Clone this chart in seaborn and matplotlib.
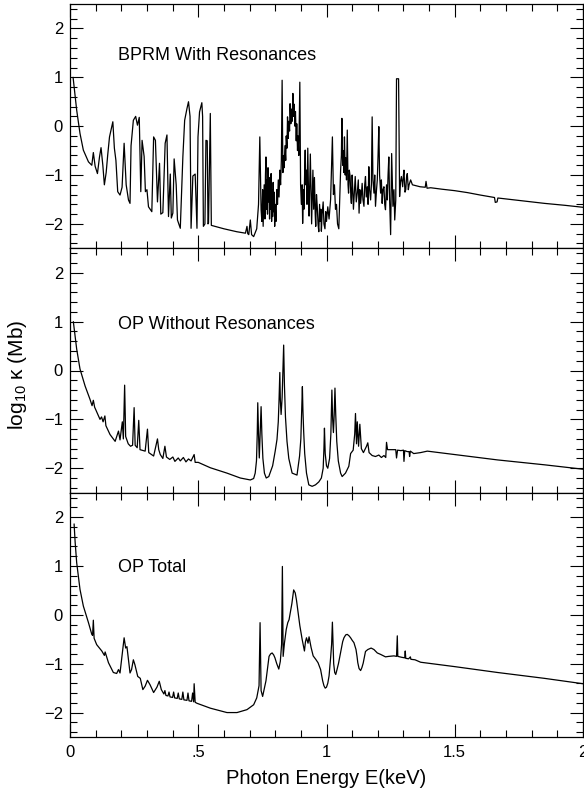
import numpy as np
import pandas as pd
import matplotlib
matplotlib.use("Agg")
import matplotlib.pyplot as plt
from matplotlib.ticker import MultipleLocator, FixedLocator, FixedFormatter
import seaborn as sns

# ---- Data (photon energy in keV, log10 kappa in Mb) ----
bprm_e = [0.012, 0.026, 0.039, 0.052, 0.072, 0.085, 0.091, 0.098, 0.107, 0.115,
          0.121, 0.128, 0.134, 0.141, 0.147, 0.154, 0.160, 0.167, 0.173, 0.179,
          0.186, 0.195, 0.203, 0.211, 0.219, 0.228, 0.234, 0.238, 0.247, 0.256,
          0.263, 0.270, 0.276, 0.281, 0.289, 0.294, 0.300, 0.306, 0.319, 0.326,
          0.333, 0.341, 0.349, 0.354, 0.362, 0.371, 0.378, 0.384, 0.391, 0.395,
          0.401, 0.406, 0.414, 0.419, 0.430, 0.440, 0.447, 0.456, 0.462, 0.468,
          0.472, 0.479, 0.488, 0.495, 0.499, 0.505, 0.510, 0.514, 0.517, 0.520,
          0.526, 0.530, 0.535, 0.538, 0.540, 0.547, 0.551,
          0.600, 0.650, 0.684, 0.690, 0.693, 0.697, 0.703, 0.708, 0.716, 0.728,
          0.735, 0.740, 0.745,
          0.748, 0.751, 0.753, 0.757, 0.760, 0.762, 0.764, 0.766, 0.768, 0.770,
          0.772, 0.774, 0.776, 0.778, 0.780, 0.782, 0.784, 0.786, 0.788, 0.790,
          0.792, 0.794, 0.796, 0.798, 0.800, 0.803, 0.806, 0.809, 0.812, 0.815,
          0.818, 0.821, 0.824, 0.827, 0.830,
          0.832, 0.835, 0.838, 0.841, 0.843, 0.846, 0.848, 0.851, 0.853, 0.856,
          0.858, 0.861, 0.863, 0.866, 0.869, 0.871, 0.874, 0.877, 0.879, 0.882,
          0.884, 0.887, 0.889, 0.892, 0.896, 0.899,
          0.902, 0.905, 0.907, 0.910, 0.912, 0.915, 0.917, 0.919, 0.922, 0.924,
          0.927, 0.930, 0.932, 0.935, 0.937, 0.940, 0.942, 0.945, 0.947, 0.950,
          0.953, 0.956, 0.958, 0.961, 0.964, 0.967, 0.970, 0.973, 0.976, 0.978,
          0.980, 0.983, 0.987, 0.990, 0.994, 0.997, 1.000, 1.005, 1.010, 1.016,
          1.023, 1.027, 1.031, 1.035, 1.039, 1.043, 1.048,
          1.052, 1.055, 1.058, 1.060, 1.063, 1.065, 1.068, 1.070, 1.073, 1.075,
          1.078, 1.081, 1.084, 1.086, 1.089, 1.092, 1.095, 1.097, 1.100, 1.102,
          1.105, 1.107, 1.110, 1.112, 1.116, 1.120, 1.124, 1.127, 1.130, 1.133,
          1.136, 1.139, 1.142, 1.146, 1.149, 1.152, 1.155, 1.159, 1.162, 1.165,
          1.168, 1.172, 1.175, 1.178, 1.181, 1.185, 1.188, 1.191, 1.195, 1.198,
          1.201, 1.204, 1.207, 1.211, 1.214, 1.217, 1.220, 1.224, 1.227, 1.230,
          1.234, 1.237, 1.240, 1.243, 1.246, 1.250,
          1.254, 1.259, 1.263, 1.266, 1.270, 1.273, 1.281, 1.285, 1.288, 1.292,
          1.297, 1.300, 1.302, 1.306, 1.309, 1.312, 1.315, 1.319, 1.322, 1.328,
          1.335, 1.350, 1.365, 1.385, 1.388, 1.392, 1.406, 1.450, 1.500, 1.550,
          1.600, 1.655, 1.658, 1.665, 1.668, 1.750, 1.850, 1.930, 2.000]
bprm_logk = [1.00, 0.33, -0.15, -0.49, -0.73, -0.80, -0.54, -0.82, -0.97, -0.63,
             -0.44, -0.80, -1.20, -0.95, -0.59, -0.22, -0.08, 0.09, -0.45, -0.70,
             -1.34, -1.41, -1.25, -0.35, -1.20, -1.51, -1.58, -0.40, 0.12, 0.20,
             0.02, 0.18, -1.34, -0.29, -0.62, -1.34, -1.30, -1.65, -1.75, -0.22,
             -0.29, -1.55, -0.76, -1.80, -1.77, -0.35, -0.18, -1.85, -0.98, -1.88,
             -1.78, -0.67, -1.20, -1.92, -2.09, -0.63, 0.12, 0.36, 0.50, 0.20,
             -2.09, -1.02, -0.98, -2.09, -0.22, 0.29, 0.40, 0.48, 0.20, -2.05,
             -2.00, -0.29, -0.30, -2.00, -1.98, 0.26, -2.03,
             -2.10, -2.16, -2.19, -2.05, -2.20, -2.22, -1.92, -2.22, -2.26, -2.10,
             -1.60, -0.22, -1.71,
             -1.95, -1.30, -2.05, -1.20, -1.90, -1.00, -0.63, -1.70, -1.10, -1.80,
             -0.85, -1.55, -1.05, -1.90, -1.25, -1.70, -0.97, -1.95, -1.30, -1.85,
             -1.15, -1.75, -1.35, -2.05, -1.60, -1.95, -1.30, -1.60, -1.10, -1.45,
             -0.90, -1.20, -0.70, 0.94, -0.95,
             -0.60, -0.85, -0.40, -0.70, -0.20, -0.45, 0.19, -0.25, 0.10, -0.10,
             0.46, 0.05, 0.35, 0.10, 0.67, 0.20, 0.45, 0.00, 0.30, -0.30,
             0.05, -0.50, -0.20, -0.60, 0.90, -1.20,
             -1.60, -1.20, -1.99, -1.30, -1.70, -0.90, -0.49, -1.20, -0.90, -1.60,
             -0.45, -1.40, -1.84, -1.10, -0.57, -1.50, -2.00, -1.30, -0.90, -1.70,
             -1.05, -1.80, -2.05, -1.40, -1.65, -2.00, -2.16, -1.60, -1.95, -1.70,
             -2.15, -1.80, -1.55, -2.00, -2.10, -1.75, -1.95, -1.65, -1.90, -1.50,
             -0.22, -1.40, -1.20, -1.70, -1.60, -2.00, -2.10,
             -1.40, -0.90, -0.60, 0.16, -0.80, -0.50, -0.95, -0.22, -1.00, -0.65,
             -1.10, -0.08, -1.20, -1.37, -0.90, -1.03, -1.45, -1.58, -1.00, -1.24,
             -1.70, -1.51, -1.20, -1.03, -1.55, -1.37, -1.10, -1.78, -1.30, -1.58,
             -1.40, -1.17, -1.50, -1.64, -1.20, -1.03, -1.45, -1.24, -1.60, -0.83,
             -1.30, -1.51, -1.20, 0.19, -1.10, -1.37, -1.00, -1.64, -1.30, -1.10,
             -0.60, -0.01, -1.00, -1.37, -1.10, -1.58, -1.30, -1.24, -1.60, -1.71,
             -1.20, -1.51, -1.00, -0.63, -1.50, -2.22,
             -0.56, -1.64, -1.30, -1.92, -1.51, 0.97, 0.97, -1.44, -1.15, -1.03,
             -1.24, -1.00, -0.90, -1.35, -1.30, -1.05, -0.97, -1.30, -1.20, -1.10,
             -1.20, -1.22, -1.24, -1.25, -1.13, -1.27, -1.26, -1.29, -1.32, -1.36,
             -1.41, -1.46, -1.56, -1.55, -1.47, -1.52, -1.58, -1.62, -1.66]

op_e = [0.013, 0.026, 0.039, 0.059, 0.078, 0.086, 0.091, 0.096, 0.111, 0.117,
        0.123, 0.129, 0.136, 0.140, 0.156, 0.176, 0.189, 0.195, 0.204, 0.208,
        0.213, 0.217, 0.227, 0.236, 0.244, 0.250, 0.254, 0.262, 0.268, 0.273,
        0.293, 0.302, 0.307, 0.326, 0.341, 0.346, 0.352, 0.362, 0.370, 0.376,
        0.389, 0.401, 0.409, 0.422, 0.430, 0.442, 0.452, 0.462, 0.472, 0.484,
        0.488, 0.500, 0.547, 0.612, 0.664, 0.703, 0.716,
        0.722, 0.727, 0.730, 0.732, 0.735, 0.738, 0.742, 0.745, 0.748, 0.752,
        0.758, 0.765, 0.775, 0.790, 0.800, 0.807, 0.812, 0.815, 0.818, 0.820,
        0.823, 0.827, 0.830, 0.833, 0.836, 0.840, 0.846, 0.853, 0.866, 0.885,
        0.895, 0.900, 0.902, 0.904, 0.906, 0.908, 0.911, 0.915, 0.922, 0.931,
        0.944, 0.957, 0.970, 0.980, 0.987, 0.990, 0.992, 0.995, 1.000, 1.005,
        1.012, 1.017, 1.021, 1.024, 1.027, 1.030, 1.033, 1.036, 1.040, 1.046,
        1.055, 1.061,
        1.074, 1.087, 1.094, 1.104, 1.110, 1.113, 1.117, 1.120, 1.125, 1.130,
        1.136, 1.144, 1.156, 1.161, 1.166, 1.178, 1.191, 1.204, 1.214, 1.224,
        1.231, 1.234, 1.238, 1.270, 1.273, 1.277, 1.290, 1.300, 1.302, 1.305,
        1.315, 1.322, 1.324, 1.327, 1.340, 1.355, 1.367, 1.393, 1.500, 1.667,
        1.850, 2.000]
op_logk = [1.00, 0.44, 0.03, -0.32, -0.59, -0.72, -0.61, -0.75, -0.93, -1.00,
           -0.95, -1.05, -0.93, -1.13, -1.31, -1.45, -1.24, -1.42, -1.05, -1.40,
           -0.30, -1.35, -1.50, -1.55, -1.53, -0.76, -1.53, -1.58, -1.02, -1.62,
           -1.65, -1.20, -1.68, -1.75, -1.40, -1.62, -1.72, -1.80, -1.55, -1.77,
           -1.82, -1.77, -1.86, -1.79, -1.85, -1.78, -1.87, -1.81, -1.85, -1.72,
           -1.88, -1.88, -1.99, -2.10, -2.20, -2.24, -2.21,
           -2.10, -1.85, -1.30, -0.66, -1.30, -1.79, -1.20, -0.74, -1.30, -1.80,
           -2.10, -2.20, -2.17, -1.95, -1.65, -1.41, -1.05, -0.60, -0.04, -0.60,
           -0.90, -0.55, 0.00, 0.52, -0.30, -0.95, -1.45, -1.80, -2.10, -2.14,
           -1.75, -1.40, -1.04, -0.70, -0.33, -0.80, -1.25, -1.70, -2.10, -2.34,
           -2.37, -2.34, -2.28, -2.20, -2.00, -1.60, -1.18, -1.70, -1.95, -2.00,
           -1.80, -1.30, -0.40, -1.00, -1.27, -0.90, -0.36, -0.90, -1.45, -1.85,
           -2.10, -2.17,
           -2.10, -1.96, -1.70, -1.63, -1.30, -0.88, -1.50, -1.05, -1.55, -1.10,
           -1.60, -1.68, -1.55, -1.48, -1.68, -1.74, -1.76, -1.73, -1.78, -1.74,
           -1.78, -1.47, -1.62, -1.62, -1.79, -1.63, -1.64, -1.63, -1.86, -1.64,
           -1.66, -1.66, -1.76, -1.65, -1.70, -1.69, -1.68, -1.65, -1.72, -1.83,
           -1.93, -2.02]

total_e = [0.016, 0.020, 0.026, 0.039, 0.052, 0.072, 0.085, 0.088, 0.091, 0.094,
           0.104, 0.124, 0.134, 0.137, 0.150, 0.169, 0.182, 0.189, 0.195, 0.202,
           0.211, 0.217, 0.222, 0.234, 0.240, 0.247, 0.253, 0.264, 0.274, 0.284,
           0.293, 0.302, 0.312, 0.326, 0.339, 0.348, 0.356, 0.366, 0.370, 0.374,
           0.382, 0.386, 0.390, 0.400, 0.404, 0.408, 0.418, 0.422, 0.426, 0.436,
           0.440, 0.444, 0.456, 0.460, 0.464, 0.474, 0.478, 0.482, 0.484, 0.488,
           0.495, 0.547, 0.612, 0.651, 0.690, 0.716, 0.728, 0.737, 0.741, 0.745,
           0.751, 0.758, 0.764, 0.770, 0.776, 0.782, 0.788, 0.794, 0.799, 0.806,
           0.814, 0.820, 0.825, 0.828, 0.831, 0.836, 0.843, 0.849, 0.854, 0.859,
           0.865, 0.872, 0.878, 0.883, 0.888, 0.896, 0.905, 0.914, 0.918, 0.922,
           0.928, 0.932, 0.940, 0.948, 0.958, 0.967, 0.977, 0.985, 0.990, 0.995,
           1.000, 1.005, 1.010, 1.016, 1.020, 1.023, 1.026, 1.028, 1.032, 1.036,
           1.041, 1.047, 1.057, 1.063, 1.068, 1.075, 1.081, 1.088, 1.094, 1.100,
           1.107, 1.115, 1.119, 1.122, 1.127, 1.133, 1.138, 1.143, 1.148, 1.152,
           1.161, 1.174, 1.185, 1.198, 1.211, 1.222, 1.230, 1.243, 1.263, 1.273,
           1.276, 1.278, 1.294, 1.305, 1.307, 1.309, 1.320, 1.327, 1.329, 1.345,
           1.367, 1.500, 1.667, 1.850, 2.000]
total_logk = [1.86, 1.49, 1.07, 0.52, 0.18, -0.16, -0.40, -0.42, -0.11, -0.48,
              -0.61, -0.74, -0.83, -0.76, -0.98, -1.18, -1.20, -1.12, -1.19, -0.88,
              -0.47, -0.68, -0.65, -1.19, -1.12, -0.92, -1.02, -1.26, -1.30, -1.53,
              -1.46, -1.34, -1.43, -1.59, -1.48, -1.36, -1.53, -1.62, -1.55, -1.65,
              -1.66, -1.58, -1.68, -1.69, -1.58, -1.70, -1.71, -1.60, -1.72, -1.73,
              -1.58, -1.74, -1.75, -1.60, -1.76, -1.77, -1.60, -1.78, -1.41, -1.79,
              -1.81, -1.91, -2.00, -2.00, -1.94, -1.84, -1.70, -1.45, -0.16, -1.55,
              -1.67, -1.50, -1.35, -1.10, -0.85, -0.80, -0.78, -0.82, -0.88, -1.00,
              -1.11, -0.95, -0.60, 0.99, -0.85, -0.58, -0.30, -0.16, -0.10, 0.05,
              0.23, 0.51, 0.45, 0.30, 0.10, -0.22, -0.50, -0.74, -0.55, -0.47,
              -0.58, -0.45, -0.67, -0.84, -0.91, -0.98, -1.12, -1.35, -1.45, -1.50,
              -1.48, -1.40, -1.25, -0.88, -0.60, -0.15, -0.70, -1.00, -1.18, -1.22,
              -1.12, -0.99, -0.71, -0.55, -0.47, -0.41, -0.40, -0.43, -0.47, -0.52,
              -0.57, -0.71, -0.85, -0.98, -1.10, -1.14, -1.08, -0.99, -0.85, -0.75,
              -0.71, -0.68, -0.71, -0.78, -0.81, -0.84, -0.86, -0.85, -0.84, -0.85,
              -0.43, -0.85, -0.87, -0.88, -0.74, -0.89, -0.90, -0.86, -0.91, -0.92,
              -0.97, -1.06, -1.18, -1.30, -1.41]

panel_titles = ["BPRM With Resonances", "OP Without Resonances", "OP Total"]
xtick_vals = [0, 0.5, 1, 1.5, 2]
xtick_labels = ["0", ".5", "1", "1.5", "2"]
ytick_vals = [-2, -1, 0, 1, 2]

sns.set_style("ticks")
plt.rcParams["font.family"] = ["Liberation Sans", "DejaVu Sans"]
plt.rcParams["mathtext.fontset"] = "custom"
plt.rcParams["mathtext.rm"] = "Liberation Sans"
plt.rcParams["mathtext.it"] = "Liberation Sans:italic"
plt.rcParams["text.color"] = "black"
plt.rcParams["xtick.color"] = "black"
plt.rcParams["ytick.color"] = "black"
plt.rcParams["axes.edgecolor"] = "black"

W, H = 584, 797
fig = plt.figure(figsize=(W / 100, H / 100), dpi=100)

left, right = 70 / W, 583 / W
top_px, bot_px = 4, 737
panel_h = (bot_px - top_px) / 3

series = [(bprm_e, bprm_logk), (op_e, op_logk), (total_e, total_logk)]
title_y = [1.35, 0.85, 0.87]

for i, ((e, k), title) in enumerate(zip(series, panel_titles)):
    assert len(e) == len(k)
    y0 = top_px + i * panel_h
    ax = fig.add_axes([left, 1 - (y0 + panel_h) / H, right - left, panel_h / H])
    df = pd.DataFrame({"energy": e, "logk": k})
    sns.lineplot(data=df, x="energy", y="logk", ax=ax, color="black",
                 linewidth=0.9, estimator=None, sort=False)

    ax.set_xlim(0, 2)
    ax.set_ylim(-2.5, 2.5)
    ax.set_xlabel("")
    ax.set_ylabel("")

    ax.xaxis.set_major_locator(FixedLocator(xtick_vals))
    ax.xaxis.set_minor_locator(MultipleLocator(0.1))
    ax.yaxis.set_major_locator(FixedLocator(ytick_vals))
    ax.yaxis.set_minor_locator(MultipleLocator(0.2))
    ax.tick_params(which="both", direction="in", top=True, bottom=True,
                   left=True, right=True, width=0.8, color="black",
                   labelsize=12, labelcolor="black")
    ax.tick_params(which="major", length=9.5, pad=5)
    ax.tick_params(which="minor", length=5)
    if i == 2:
        ax.xaxis.set_major_formatter(FixedFormatter(xtick_labels))
        ax.tick_params(axis="x", pad=6)
    else:
        ax.tick_params(axis="x", labelbottom=False)

    for s in ax.spines.values():
        s.set_linewidth(0.9)
        s.set_color("black")

    ax.text(0.1875, title_y[i], title, fontsize=13, ha="left", va="baseline")

fig.text(326 / W, 1 - 779 / H, "Photon Energy E(keV)", fontsize=14.5,
         ha="center", va="center")
fig.text(18 / W, 1 - 375 / H, r"log$_{10}$ κ (Mb)", fontsize=15,
         ha="center", va="center", rotation=90)

fig.savefig("out.png", dpi=100)
